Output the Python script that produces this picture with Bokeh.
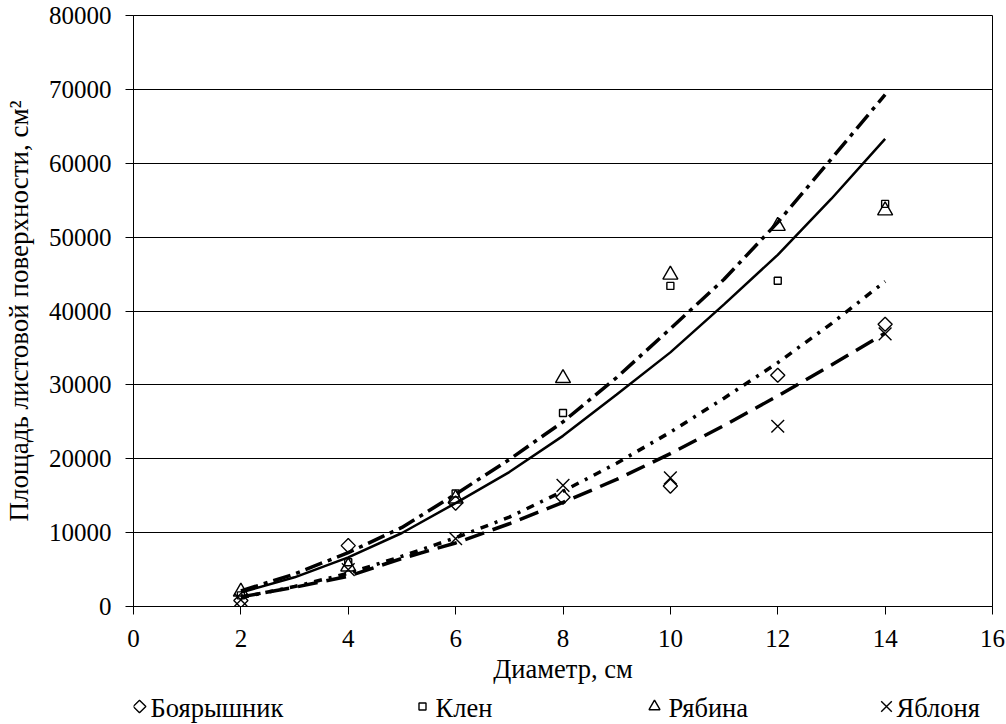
import math
from bokeh.plotting import figure
from bokeh.layouts import column
from bokeh.models import Range1d, FixedTicker, NumeralTickFormatter
from bokeh.core.properties import value
from bokeh.embed import file_html
from bokeh.resources import INLINE

# ---- data ----
diam = [2, 4, 6, 8, 10, 12, 14]
boyaryshnik = [800, 8240, 14000, 14800, 16300, 31300, 38200]
klen = [1500, 6000, 15300, 26200, 43400, 44100, 54500]
ryabina = [2000, 5400, 14600, 30900, 44900, 51500, 53600]
yablonya = [900, 5000, 9200, 16400, 17400, 24400, 36900]

trend_x = [2, 3, 4, 5, 6, 7, 8, 9, 10, 11, 12, 13, 14]
trend_boyaryshnik = [1200, 2700, 4500, 6800, 9300, 12100, 15600, 19400, 23600, 28200, 33000, 38300, 44000]
trend_klen = [1900, 3950, 6650, 9950, 14000, 18200, 23100, 28700, 34400, 40900, 47600, 55200, 63300]
trend_ryabina = [2100, 4400, 7300, 10700, 15200, 19900, 25000, 31000, 37600, 44300, 52000, 60600, 69300]
trend_yablonya = [1300, 2600, 4100, 6500, 8600, 11200, 14100, 17200, 20700, 24500, 28500, 32700, 37000]

x_ticks = [0, 2, 4, 6, 8, 10, 12, 14, 16]
y_ticks = [0, 10000, 20000, 30000, 40000, 50000, 60000, 70000, 80000]

x_title = "Диаметр, см"
y_title = "Площадь листовой поверхности, см²"
names = ["Боярышник", "Клен", "Рябина", "Яблоня"]

FONT = "Liberation Serif"
FS = "25px"
FS_T = "26.5px"

p = figure(width=1006, height=690, x_range=Range1d(0, 16), y_range=Range1d(0, 80000),
           output_backend="svg", toolbar_location=None,
           min_border_left=133, min_border_right=14, min_border_top=15, min_border_bottom=84)
p.background_fill_color = "white"
p.border_fill_color = "white"
p.outline_line_color = "black"
p.outline_line_alpha = 1
p.outline_line_width = 1

p.xgrid.visible = False
p.ygrid.grid_line_color = "black"
p.ygrid.grid_line_alpha = 1
p.ygrid.grid_line_width = 1

p.xaxis.ticker = FixedTicker(ticks=x_ticks)
p.yaxis.ticker = FixedTicker(ticks=y_ticks)
p.yaxis.formatter = NumeralTickFormatter(format="0")
for ax in (p.xaxis, p.yaxis):
    ax.axis_line_color = "black"
    ax.major_tick_line_color = "black"
    ax.major_tick_out = 8
    ax.major_tick_in = 0
    ax.minor_tick_out = 0
    ax.minor_tick_in = 0
    ax.major_label_text_font = FONT
    ax.major_label_text_font_size = FS
    ax.major_label_text_color = "black"
    ax.axis_label_text_font = FONT
    ax.axis_label_text_font_style = "normal"
    ax.axis_label_text_color = "black"
p.yaxis.major_label_standoff = 14
p.xaxis.major_label_standoff = 15
p.xaxis.axis_label = x_title
p.xaxis.axis_label_text_font_size = FS_T
p.xaxis.axis_label_standoff = 4
p.yaxis.axis_label = y_title
p.yaxis.axis_label_text_font_size = "27px"
p.yaxis.axis_label_standoff = 12

# trend lines
p.line(trend_x, trend_ryabina, line_color="black", line_width=3.5, line_dash="18 6 4 6")
p.line(trend_x, trend_klen, line_color="black", line_width=2.5)
p.line(trend_x, trend_boyaryshnik, line_color="black", line_width=3.5, line_dash="8 7 3 7")
p.line(trend_x, trend_yablonya, line_color="black", line_width=3.5, line_dash="20 9")

# points
p.scatter(diam, boyaryshnik, marker="square", angle=math.pi / 4, size=10,
          fill_color=None, line_color="black", line_width=1.4)
p.scatter(diam, klen, marker="square", size=7,
          fill_color=None, line_color="black", line_width=1.4)
p.scatter(diam, ryabina, marker="triangle", size=15,
          fill_color=None, line_color="black", line_width=1.4)
p.scatter(diam, yablonya, marker="x", size=18,
          line_color="black", line_width=1.4)

# legend strip below the chart (its frame is aligned with the chart frame: x in page pixels)
leg_markers = ["square", "square", "triangle", "x"]
leg_angles = [math.pi / 4, 0, 0, 0]
leg_sizes = [9, 7, 11, 15]
leg_x = [139, 422, 654, 886]
leg_tx = [150, 435, 668, 896]
p2 = figure(width=1006, height=34, x_range=Range1d(133, 992), y_range=Range1d(0, 34),
            output_backend="svg", toolbar_location=None,
            min_border=0, outline_line_color=None)
p2.axis.visible = False
p2.grid.visible = False
p2.border_fill_color = "white"
p2.background_fill_color = "white"
for m, a, s, lx, tx, n in zip(leg_markers, leg_angles, leg_sizes, leg_x, leg_tx, names):
    p2.scatter([lx], [18], marker=m, angle=a, size=s, fill_color=None, line_color="black", line_width=1.4)
    p2.text([tx], [16.5], text=[n], text_font=value(FONT), text_font_size=value(FS_T),
            text_baseline="middle", text_align="left", text_color="black")

open("out.html", "w").write(file_html(column(p, p2), INLINE))
